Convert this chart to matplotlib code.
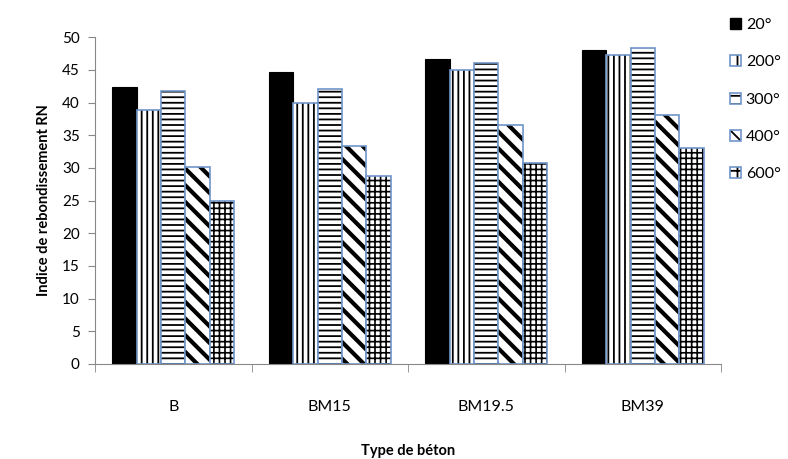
import numpy as np
import matplotlib
matplotlib.use("Agg")
import matplotlib.pyplot as plt
from matplotlib.patches import Patch

# données
types_beton = ["B", "BM15", "BM19.5", "BM39"]
temperatures = ["20°", "200°", "300°", "400°", "600°"]
rn_20 = [42.4, 44.7, 46.7, 48.1]
rn_200 = [38.9, 40.0, 45.0, 47.3]
rn_300 = [41.8, 42.0, 46.1, 48.3]
rn_400 = [30.1, 33.4, 36.5, 38.1]
rn_600 = [24.9, 28.7, 30.8, 33.0]

series = [rn_20, rn_200, rn_300, rn_400, rn_600]
hachures = [None, "|||", "---", "\\\\", "+++"]
epaisseurs = [1.0, 1.3, 1.3, 3.0, 1.2]
bleu = "#6f95c8"

plt.rcParams["font.family"] = ["Lato", "DejaVu Sans"]
plt.rcParams["hatch.linewidth"] = 1.3

fig = plt.figure(figsize=(7.88, 4.59), dpi=100)
ax = fig.add_axes([0.1206, 0.207, 0.7944, 0.712])

x = np.arange(len(types_beton))
n = len(series)
largeur = 0.78 / n

for i, (vals, h, lw) in enumerate(zip(series, hachures, epaisseurs)):
    pos = x - 0.39 + largeur * (i + 0.5)
    if h is None:
        ax.bar(pos, vals, largeur, color="black", edgecolor="black", linewidth=0.8)
    else:
        bars = ax.bar(pos, vals, largeur, color="white", edgecolor="black",
                      linewidth=0, hatch=h)
        for b in bars:
            if hasattr(b, "set_hatch_linewidth"):
                b.set_hatch_linewidth(lw)
        ax.bar(pos, vals, largeur, fill=False, edgecolor=bleu, linewidth=1.2)

ax.set_xlim(-0.5, len(types_beton) - 0.5)
ax.set_ylim(0, 50)
ax.set_yticks(np.arange(0, 51, 5))

ax.set_xticks(x)
ax.set_xticklabels(types_beton, fontsize=11.5)
ax.set_xticks(np.arange(-0.5, len(types_beton), 1), minor=True)
ax.tick_params(axis="x", which="major", length=0, pad=26)
ax.tick_params(axis="x", which="minor", length=6, color="#888888", direction="out")
ax.tick_params(axis="y", length=5, color="#888888", labelsize=11, pad=6)

for s in ["top", "right"]:
    ax.spines[s].set_visible(False)
for s in ["left", "bottom"]:
    ax.spines[s].set_color("#888888")

ax.set_ylabel("Indice de rebondissement RN", fontsize=10.5, fontweight="bold", labelpad=8)
fig.text(0.518, 0.008, "Type de béton", fontsize=10.5, fontweight="bold", ha="center")

# poignées de légende : hachures noires + contour bleu
poignees = []
for h in hachures:
    if h is None:
        poignees.append(Patch(facecolor="black", edgecolor="black"))
    else:
        fond = Patch(facecolor="white", edgecolor="black", linewidth=0, hatch=h[:2])
        contour = Patch(fill=False, edgecolor=bleu, linewidth=1.2)
        poignees.append((fond, contour))
fig.legend(poignees, temperatures, loc="upper left", bbox_to_anchor=(0.918, 0.975),
           frameon=False, fontsize=11.5, labelspacing=1.45, handlelength=0.7,
           handleheight=0.7, handletextpad=0.3, borderaxespad=0)

fig.savefig("out.png", dpi=100)
